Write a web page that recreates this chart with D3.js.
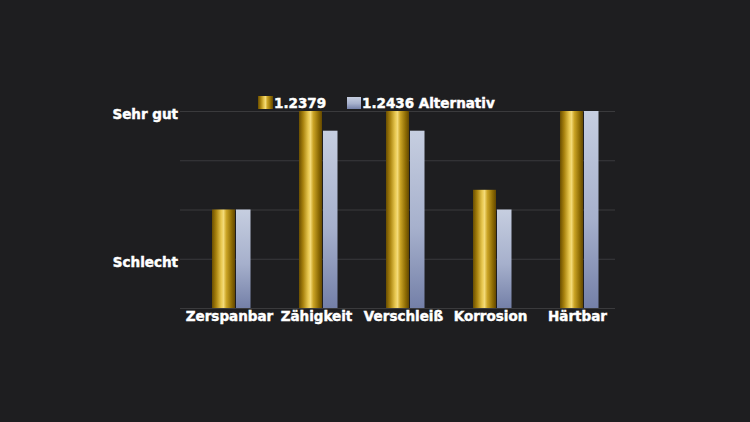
<!DOCTYPE html>
<html>
<head>
<meta charset="utf-8">
<script src="https://cdn.jsdelivr.net/npm/d3@7"></script>
<style>
  html, body { margin: 0; padding: 0; background: #1e1e20; }
  text { font-family: "DejaVu Sans", sans-serif; font-weight: bold; fill: #ffffff; stroke: #ffffff; stroke-width: 0.45px; }
</style>
</head>
<body>
<div class="chart"></div>
<script>
// data
var categories = ["Zerspanbar", "Zähigkeit", "Verschleiß", "Korrosion", "Härtbar"];
var seriesNames = ["1.2379", "1.2436 Alternativ"];
var valuesA = [2, 4, 4, 2.4, 4];
var valuesB = [2, 3.6, 3.6, 2, 4];
var tickValues = [0, 1, 2, 3, 4];
var tickLabels = {1: "Schlecht", 4: "Sehr gut"};

var svgWidth = 750;
var svgHeight = 422;

var svg = d3.select(".chart")
  .append("svg")
  .attr("width", svgWidth)
  .attr("height", svgHeight);

svg.append("rect")
  .attr("width", svgWidth)
  .attr("height", svgHeight)
  .attr("fill", "#1e1e20");

var defs = svg.append("defs");

// gold cylinder look
var gold = defs.append("linearGradient")
  .attr("id", "gold")
  .attr("x1", "0%").attr("x2", "100%")
  .attr("y1", "0%").attr("y2", "0%");
[["0%", "#6a4e00"], ["18%", "#a8820e"], ["40%", "#e8c850"], ["50%", "#f3da78"],
 ["62%", "#ccA526"], ["85%", "#8e6c04"], ["100%", "#644800"]].forEach(function(s) {
  gold.append("stop").attr("offset", s[0]).attr("stop-color", s[1]);
});

var blue = defs.append("linearGradient")
  .attr("id", "blue")
  .attr("x1", "0%").attr("x2", "0%")
  .attr("y1", "0%").attr("y2", "100%");
blue.append("stop").attr("offset", "0%").attr("stop-color", "#c6cee0");
blue.append("stop").attr("offset", "55%").attr("stop-color", "#a6b0cc");
blue.append("stop").attr("offset", "100%").attr("stop-color", "#7480a8");

// scales
var x = d3.scaleBand()
  .domain(categories)
  .range([180, 615])
  .padding(0);

var y = d3.scaleLinear()
  .domain([0, 4])
  .range([308, 111]);

// gridlines
var grid = svg.append("g")
  .attr("transform", "translate(180,0)")
  .call(d3.axisLeft(y).tickValues(tickValues).tickSize(-435).tickFormat(""));
grid.select(".domain").remove();
grid.selectAll(".tick line").attr("stroke", "#3a3a3c").attr("stroke-width", 1);

// y labels
var yAxis = svg.append("g")
  .attr("transform", "translate(178,0)")
  .call(d3.axisLeft(y).tickValues([1, 4]).tickSize(0).tickPadding(0)
    .tickFormat(function(d) { return tickLabels[d]; }));
yAxis.select(".domain").remove();
yAxis.selectAll("text")
  .attr("fill", "#ffffff")
  .attr("dy", "0.55em")
  .style("font-size", "13.5px")
  .style("font-family", null);

// bars
var goldW = 23, blueW = 14.5;
var groups = svg.append("g").selectAll("g")
  .data(categories)
  .enter()
  .append("g")
  .attr("transform", function(d) { return "translate(" + (x(d) + x.bandwidth() / 2) + ",0)"; });

groups.append("rect")
  .attr("x", -goldW / 2)
  .attr("width", goldW)
  .attr("y", function(d, i) { return y(valuesA[i]); })
  .attr("height", function(d, i) { return y(0) - y(valuesA[i]); })
  .attr("fill", "url(#gold)");

groups.append("rect")
  .attr("x", goldW / 2 + 1)
  .attr("width", blueW)
  .attr("y", function(d, i) { return y(valuesB[i]); })
  .attr("height", function(d, i) { return y(0) - y(valuesB[i]); })
  .attr("fill", "url(#blue)");

// x labels
var xAxis = svg.append("g")
  .attr("transform", "translate(6,308)")
  .call(d3.axisBottom(x).tickSize(0).tickPadding(3));
xAxis.select(".domain").remove();
xAxis.selectAll("text")
  .attr("fill", "#ffffff")
  .style("font-size", "13.5px")
  .style("font-family", null);

// legend
var legend = svg.append("g");
legend.append("rect")
  .attr("x", 258).attr("y", 96).attr("width", 15).attr("height", 13)
  .attr("fill", "url(#gold)");
legend.append("text")
  .attr("x", 274).attr("y", 108)
  .style("font-size", "13.5px")
  .text(seriesNames[0]);
legend.append("rect")
  .attr("x", 347).attr("y", 97).attr("width", 14).attr("height", 12)
  .attr("fill", "url(#blue)");
legend.append("text")
  .attr("x", 362).attr("y", 108)
  .style("font-size", "13.5px")
  .text(seriesNames[1]);
</script>
</body>
</html>
